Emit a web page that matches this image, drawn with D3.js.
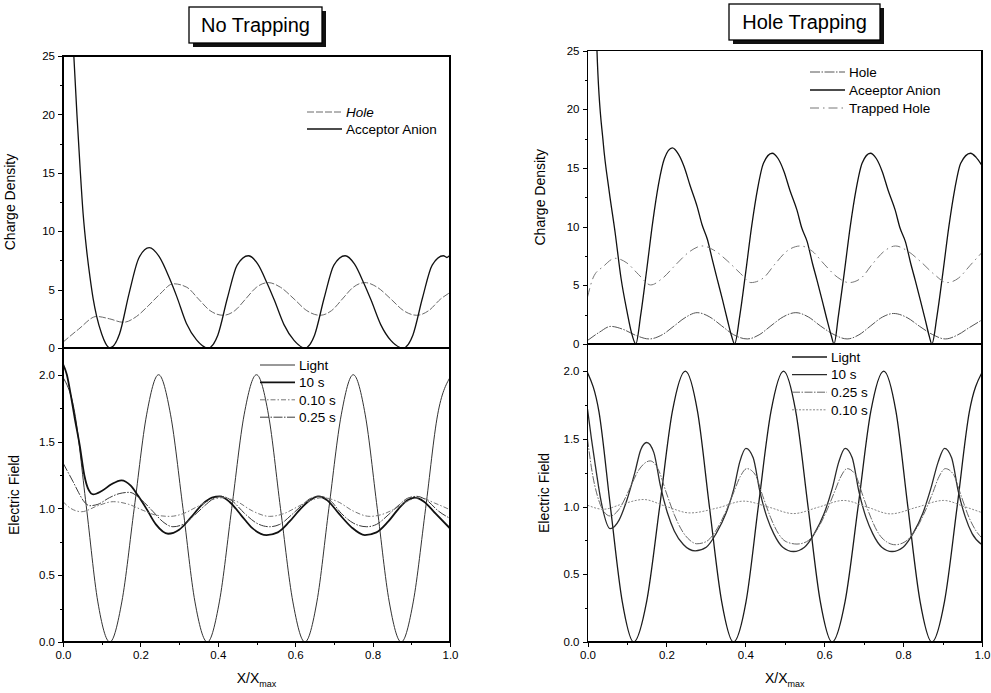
<!DOCTYPE html>
<html lang="en">
<head>
<meta charset="UTF-8">
<title>Charge Density and Electric Field</title>
<script src="https://d3js.org/d3.v7.min.js"></script>
<style>
  body { margin: 0; background: #fff; }
  svg { display: block; font-family: "Liberation Sans", Arial, sans-serif; }
  .axis path { display: none; }
  .axis line { stroke: #000; shape-rendering: crispEdges; }
  .axis text { font-size: 11.5px; fill: #000; font-family: "Liberation Sans", Arial, sans-serif; }
  .frame { fill: none; stroke: #000; stroke-width: 1.3; shape-rendering: crispEdges; }
  .legend text { font-size: 13.5px; }
</style>
</head>
<body>
<div id="chart"></div>
<script>
// ---- tick labels ----
const xTicks = [0, 0.2, 0.4, 0.6, 0.8, 1.0];
const xMinor = [0.1, 0.3, 0.5, 0.7, 0.9];
const chargeTicks = [0, 5, 10, 15, 20, 25];
const chargeMinor = [2.5, 7.5, 12.5, 17.5, 22.5];
const fieldTicks = [0, 0.5, 1.0, 1.5, 2.0];
const fieldMinor = [0.25, 0.75, 1.25, 1.75];

// ---- No Trapping: charge density ----
const ntAnionX = [0, 0.008, 0.018, 0.028, 0.036, 0.044, 0.052, 0.061, 0.07, 0.078, 0.087, 0.1, 0.11, 0.121,
  0.146, 0.171, 0.196, 0.223, 0.249, 0.276, 0.294, 0.319, 0.345, 0.375,
  0.4, 0.425, 0.45, 0.479, 0.503, 0.528, 0.546, 0.571, 0.597, 0.625,
  0.65, 0.675, 0.7, 0.729, 0.753, 0.778, 0.796, 0.821, 0.847, 0.879,
  0.904, 0.929, 0.954, 0.983, 0.992, 1.0];
const ntAnionY = [120, 50, 32, 25, 20, 15.5, 11.5, 8.4, 6.0, 4.2, 2.7, 1.2, 0.4, 0,
  1.2, 4.7, 7.7, 8.6, 7.8, 5.9, 4.4, 2.1, 0.7, 0,
  1.1, 4.3, 7.1, 7.9, 7.2, 5.5, 4.1, 2.0, 0.65, 0,
  1.1, 4.3, 7.1, 7.9, 7.2, 5.5, 4.1, 2.0, 0.65, 0,
  1.1, 4.3, 7.1, 7.9, 7.75, 7.95];
const ntHoleX = [0, 0.04, 0.087, 0.12, 0.156, 0.19, 0.22, 0.25, 0.285, 0.32,
  0.35, 0.38, 0.414, 0.444, 0.472, 0.5, 0.53, 0.562, 0.597, 0.63,
  0.664, 0.694, 0.722, 0.75, 0.78, 0.812, 0.847, 0.88, 0.914, 0.945, 0.976, 1.0];
const ntHoleY = [0.5, 1.6, 2.7, 2.5, 2.2, 2.7, 3.6, 4.6, 5.5, 5.2,
  4.2, 3.2, 2.8, 3.2, 4.2, 5.2, 5.6, 5.2, 4.2, 3.2,
  2.8, 3.2, 4.2, 5.2, 5.6, 5.2, 4.2, 3.2, 2.8, 3.2, 4.2, 4.75];

// ---- No Trapping: electric field ----
const ntLightX = [0, 0.03, 0.06, 0.09, 0.121, 0.152, 0.184, 0.216, 0.247, 0.278, 0.31, 0.341, 0.373, 0.404, 0.436, 0.468,
  0.5, 0.531, 0.562, 0.594, 0.625, 0.656, 0.687, 0.719, 0.75, 0.781, 0.812, 0.843, 0.874, 0.905, 0.937, 0.968, 1.0];
const ntLightY = [1.98, 1.72, 1.02, 0.3, 0, 0.3, 1.0, 1.7, 2.0, 1.7, 1.0, 0.3, 0, 0.3, 1.0, 1.7,
  2.0, 1.7, 1.0, 0.3, 0, 0.3, 1.0, 1.7, 2.0, 1.7, 1.0, 0.3, 0, 0.3, 1.0, 1.7, 1.98];
const nt10sX = [0, 0.01, 0.02, 0.03, 0.043, 0.055, 0.066, 0.078, 0.1, 0.125,
  0.151, 0.175, 0.195, 0.215, 0.24, 0.2715, 0.3, 0.33, 0.36, 0.385,
  0.405, 0.43, 0.46, 0.49, 0.526, 0.555, 0.585, 0.615, 0.638, 0.659,
  0.683, 0.713, 0.745, 0.78, 0.81, 0.84, 0.868, 0.89, 0.909, 0.933, 0.963, 1.0];
const nt10sY = [2.08, 2.0, 1.85, 1.68, 1.475, 1.25, 1.14, 1.105, 1.13, 1.18,
  1.21, 1.17, 1.09, 1.0, 0.88, 0.81, 0.84, 0.93, 1.03, 1.08,
  1.09, 1.05, 0.95, 0.85, 0.8, 0.82, 0.9, 1.0, 1.06, 1.09,
  1.06, 0.96, 0.86, 0.8, 0.82, 0.9, 1.0, 1.06, 1.08, 1.05, 0.96, 0.85];
const nt010X = [0, 0.02, 0.048, 0.09, 0.13, 0.17, 0.207, 0.24, 0.276, 0.31,
  0.345, 0.38, 0.414, 0.45, 0.49, 0.534, 0.57, 0.605, 0.64, 0.672,
  0.71, 0.75, 0.793, 0.83, 0.865, 0.895, 0.922, 0.96, 1.0];
const nt010Y = [1.05, 1.0, 0.975, 1.02, 1.05, 1.03, 0.985, 0.95, 0.94, 0.96,
  1.01, 1.06, 1.08, 1.05, 0.98, 0.94, 0.96, 1.01, 1.06, 1.08,
  1.05, 0.98, 0.94, 0.96, 1.01, 1.06, 1.08, 1.04, 0.99];
const nt025X = [0, 0.013, 0.026, 0.04, 0.052, 0.069, 0.09, 0.12, 0.145, 0.172,
  0.2, 0.233, 0.258, 0.284, 0.31, 0.34, 0.37, 0.39, 0.409, 0.435,
  0.47, 0.5, 0.534, 0.56, 0.59, 0.62, 0.64, 0.664, 0.69, 0.72,
  0.75, 0.785, 0.81, 0.84, 0.87, 0.89, 0.914, 0.94, 0.97, 1.0];
const nt025Y = [1.34, 1.27, 1.2, 1.12, 1.06, 1.02, 1.03, 1.08, 1.11, 1.12,
  1.07, 0.975, 0.9, 0.8625, 0.88, 0.95, 1.03, 1.075, 1.09, 1.06,
  0.96, 0.89, 0.8625, 0.88, 0.95, 1.03, 1.075, 1.09, 1.06, 0.96,
  0.89, 0.8625, 0.88, 0.95, 1.03, 1.075, 1.09, 1.06, 0.98, 0.925];

// ---- Hole Trapping: charge density ----
const htHoleX = [0, 0.03, 0.059, 0.09, 0.125, 0.156, 0.19, 0.22, 0.25, 0.278,
  0.31, 0.34, 0.37, 0.405, 0.435, 0.465, 0.497, 0.528, 0.56, 0.59,
  0.625, 0.658, 0.688, 0.718, 0.748, 0.776, 0.81, 0.842, 0.875, 0.907, 0.937, 0.968, 1.0];
const htHoleY = [0.3, 1.0, 1.5, 1.25, 0.7, 0.43, 0.8, 1.55, 2.3, 2.67,
  2.3, 1.55, 0.8, 0.43, 0.78, 1.55, 2.33, 2.67, 2.3, 1.55,
  0.8, 0.43, 0.78, 1.55, 2.3, 2.6, 2.25, 1.5, 0.8, 0.43, 0.75, 1.4, 2.05];
const htAnionX = [0, 0.01, 0.024, 0.04, 0.055, 0.07, 0.085, 0.1, 0.112, 0.1225,
  0.135, 0.15, 0.165, 0.18, 0.195, 0.215,
  0.23, 0.245, 0.26, 0.278, 0.29, 0.304, 0.317, 0.329, 0.342, 0.355, 0.365, 0.373,
  0.386, 0.401, 0.416, 0.431, 0.446, 0.468,
  0.483, 0.498, 0.513, 0.531, 0.543, 0.557, 0.57, 0.582, 0.595, 0.608, 0.618, 0.625,
  0.636, 0.651, 0.666, 0.681, 0.696, 0.717,
  0.732, 0.747, 0.762, 0.78, 0.792, 0.806, 0.819, 0.831, 0.844, 0.857, 0.866, 0.873,
  0.886, 0.901, 0.916, 0.931, 0.946, 0.971, 0.985, 1.0];
const htAnionY = [120, 45, 25, 17.1, 13, 9.5, 5.6, 2.8, 0.9, 0,
  2.5, 6.3, 10.3, 13.6, 15.8, 16.7,
  16.2, 15.1, 13.5, 11.7, 10.2, 8.9, 7.1, 5.5, 3.8, 2.0, 0.7, 0,
  2.4, 6.1, 10.0, 13.2, 15.4, 16.25,
  15.8, 14.7, 13.1, 11.4, 9.9, 8.7, 6.9, 5.4, 3.7, 1.95, 0.7, 0,
  2.4, 6.1, 10.0, 13.2, 15.4, 16.25,
  15.8, 14.7, 13.1, 11.4, 9.9, 8.7, 6.9, 5.4, 3.7, 1.95, 0.7, 0,
  2.4, 6.1, 10.0, 13.2, 15.4, 16.25, 15.9, 15.2];
const htTrapX = [0, 0.015, 0.04, 0.07, 0.1, 0.13, 0.16, 0.19, 0.225, 0.26,
  0.291, 0.32, 0.354, 0.388, 0.414, 0.445, 0.475, 0.505, 0.54, 0.57,
  0.6, 0.633, 0.663, 0.693, 0.722, 0.752, 0.781, 0.81, 0.845, 0.88,
  0.911, 0.94, 0.97, 1.0];
const htTrapY = [4.0, 5.7, 6.6, 7.3, 6.9, 5.9, 5.03, 5.6, 6.8, 7.9,
  8.35, 8.0, 7.1, 6.0, 5.23, 5.6, 6.8, 7.9, 8.35, 7.9,
  6.8, 5.7, 5.23, 5.6, 6.8, 7.9, 8.35, 7.95, 7.0, 5.9,
  5.23, 5.6, 6.7, 7.8];

// ---- Hole Trapping: electric field ----
const htLightX = [0, 0.029, 0.058, 0.088, 0.117, 0.15, 0.183, 0.215, 0.248, 0.279, 0.309, 0.34, 0.37, 0.402, 0.433, 0.465,
  0.497, 0.528, 0.559, 0.59, 0.62, 0.653, 0.686, 0.718, 0.751, 0.782, 0.812, 0.843, 0.873, 0.905, 0.937, 0.968, 1.0];
const htLightY = [1.99, 1.7, 1.0, 0.3, 0, 0.3, 1.0, 1.7, 2.0, 1.7, 1.0, 0.3, 0, 0.3, 1.0, 1.7,
  2.0, 1.7, 1.0, 0.3, 0, 0.3, 1.0, 1.7, 2.0, 1.7, 1.0, 0.3, 0, 0.3, 1.0, 1.7, 1.99];
const ht10sX = [0, 0.01, 0.02, 0.035, 0.0575, 0.08, 0.1, 0.12, 0.135, 0.15,
  0.168, 0.185, 0.203, 0.22, 0.243, 0.273, 0.301, 0.326, 0.351, 0.371,
  0.386, 0.4015, 0.42, 0.437, 0.455, 0.472, 0.495, 0.522, 0.55, 0.575,
  0.6, 0.62, 0.637, 0.653, 0.671, 0.688, 0.706, 0.723, 0.746, 0.772,
  0.8, 0.825, 0.85, 0.87, 0.889, 0.905, 0.923, 0.94, 0.958, 0.975, 1.0];
const ht10sY = [1.72, 1.5, 1.3, 1.03, 0.837, 0.9, 1.05, 1.25, 1.42, 1.473,
  1.4, 1.15, 0.95, 0.82, 0.72, 0.673, 0.7, 0.8, 0.95, 1.13,
  1.33, 1.43, 1.36, 1.11, 0.92, 0.8, 0.7, 0.668, 0.7, 0.8,
  0.95, 1.13, 1.33, 1.43, 1.36, 1.11, 0.92, 0.8, 0.7, 0.668,
  0.7, 0.8, 0.95, 1.13, 1.33, 1.43, 1.36, 1.11, 0.92, 0.8, 0.718];
const ht025X = [0, 0.012, 0.025, 0.04, 0.0575, 0.08, 0.105, 0.13, 0.159, 0.18,
  0.2, 0.22, 0.24, 0.26, 0.277, 0.3, 0.325, 0.35, 0.37, 0.387,
  0.404, 0.424, 0.444, 0.464, 0.484, 0.504, 0.531, 0.555, 0.58, 0.605,
  0.625, 0.642, 0.658, 0.678, 0.698, 0.718, 0.738, 0.758, 0.78, 0.805,
  0.83, 0.855, 0.875, 0.891, 0.907, 0.927, 0.947, 0.967, 0.985, 1.0];
const ht025Y = [1.5, 1.25, 1.08, 0.97, 0.93, 0.98, 1.12, 1.27, 1.337, 1.27,
  1.1, 0.94, 0.82, 0.75, 0.725, 0.74, 0.82, 0.96, 1.1, 1.22,
  1.28, 1.24, 1.08, 0.92, 0.8, 0.74, 0.723, 0.74, 0.82, 0.96,
  1.1, 1.22, 1.28, 1.24, 1.08, 0.92, 0.8, 0.74, 0.718, 0.74,
  0.82, 0.96, 1.1, 1.22, 1.28, 1.24, 1.08, 0.92, 0.82, 0.767];
const ht010X = [0, 0.04, 0.09, 0.142, 0.2, 0.26, 0.33, 0.396, 0.46, 0.522,
  0.585, 0.649, 0.71, 0.768, 0.835, 0.903, 0.955, 1.0];
const ht010Y = [1.01, 0.98, 1.02, 1.052, 1.0, 0.953, 0.99, 1.04, 0.995, 0.948,
  0.995, 1.045, 0.995, 0.946, 0.995, 1.045, 1.0, 0.955];

const zip = (xs, ys) => xs.map((x, i) => ({ x: x, y: ys[i] }));

// Panel layout and series styling
const sides = [
  {
    id: 'nt', left: 63, right: 450, top: 56, mid: 348, bottom: 642,
    title: 'No Trapping', box: [189, 7, 133, 36],
    chargeLegend: { x: 307, y: 112, dy: 17 },
    fieldLegend: { x: 260, y: 365, dy: 17.4 },
    charge: [
      { name: 'Hole', italic: true, xs: ntHoleX, ys: ntHoleY, color: '#6a6a6a', width: 1, dash: '7,2' },
      { name: 'Acceptor Anion', xs: ntAnionX, ys: ntAnionY, color: '#111', width: 1.3, dash: null }
    ],
    field: [
      { name: 'Light', xs: ntLightX, ys: ntLightY, color: '#333', width: 1, dash: null },
      { name: '10 s', xs: nt10sX, ys: nt10sY, color: '#111', width: 1.8, dash: null },
      { name: '0.10 s', xs: nt010X, ys: nt010Y, color: '#777', width: 1, dash: '5,2,1.5,2' },
      { name: '0.25 s', xs: nt025X, ys: nt025Y, color: '#3a3a3a', width: 1, dash: '9,1.5,1.5,1.5' }
    ]
  },
  {
    id: 'ht', left: 587.5, right: 982, top: 50.5, mid: 344, bottom: 642,
    title: 'Hole Trapping', box: [729, 4, 151, 36],
    chargeLegend: { x: 810, y: 72, dy: 18 },
    fieldLegend: { x: 792, y: 357, dy: 17.6 },
    charge: [
      { name: 'Hole', xs: htHoleX, ys: htHoleY, color: '#555', width: 1, dash: '10,1.5,1.5,1.5' },
      { name: 'Aceeptor Anion', xs: htAnionX, ys: htAnionY, color: '#111', width: 1.3, dash: null },
      { name: 'Trapped Hole', xs: htTrapX, ys: htTrapY, color: '#777', width: 1, dash: '9,4,1.5,4' }
    ],
    field: [
      { name: 'Light', xs: htLightX, ys: htLightY, color: '#1a1a1a', width: 1.3, dash: null },
      { name: '10 s', xs: ht10sX, ys: ht10sY, color: '#2a2a2a', width: 1.3, dash: null },
      { name: '0.25 s', xs: ht025X, ys: ht025Y, color: '#666', width: 1, dash: '8,1.5,1.5,1.5' },
      { name: '0.10 s', xs: ht010X, ys: ht010Y, color: '#888', width: 1, dash: '2,1.5' }
    ]
  }
];

const svg = d3.select('#chart').append('svg')
  .attr('width', 991)
  .attr('height', 693);

const defs = svg.append('defs');

function drawPanel(s, key, x, y, top, bottom, legend, ticks, minor, fmt, label, labelX) {
  const clipId = 'clip-' + s.id + '-' + key;
  defs.append('clipPath').attr('id', clipId)
    .append('rect')
    .attr('x', s.left).attr('y', top)
    .attr('width', s.right - s.left).attr('height', bottom - top);

  const line = d3.line()
    .x(d => x(d.x))
    .y(d => y(d.y))
    .curve(d3.curveMonotoneX);

  const g = svg.append('g').attr('clip-path', `url(#${clipId})`);
  s[key].forEach(ser => {
    g.append('path')
      .datum(zip(ser.xs, ser.ys))
      .attr('fill', 'none')
      .attr('stroke', ser.color)
      .attr('stroke-width', ser.width)
      .attr('stroke-dasharray', ser.dash)
      .attr('stroke-linejoin', 'round')
      .attr('d', line);
  });

  // y axis, major and minor ticks
  svg.append('g')
    .attr('class', 'axis')
    .attr('transform', `translate(${s.left},0)`)
    .call(d3.axisLeft(y).tickValues(ticks).tickSize(5).tickPadding(3).tickFormat(fmt));
  svg.append('g')
    .attr('class', 'axis')
    .attr('transform', `translate(${s.left},0)`)
    .call(d3.axisLeft(y).tickValues(minor).tickSize(3).tickFormat(''));

  // frame
  svg.append('rect')
    .attr('class', 'frame')
    .attr('x', s.left).attr('y', top)
    .attr('width', s.right - s.left).attr('height', bottom - top);

  // y label
  svg.append('text')
    .attr('transform', `translate(${labelX},${(top + bottom) / 2}) rotate(-90)`)
    .attr('text-anchor', 'middle')
    .attr('font-size', 14)
    .text(label);

  // legend
  const lg = svg.append('g').attr('class', 'legend');
  s[key].forEach((ser, i) => {
    const ly = legend.y + i * legend.dy;
    lg.append('line')
      .attr('x1', legend.x).attr('x2', legend.x + 35)
      .attr('y1', ly).attr('y2', ly)
      .attr('stroke', ser.color)
      .attr('stroke-width', ser.width)
      .attr('stroke-dasharray', ser.dash);
    lg.append('text')
      .attr('x', legend.x + 39)
      .attr('y', ly)
      .attr('dy', '0.36em')
      .attr('font-style', ser.italic ? 'italic' : null)
      .text(ser.name);
  });
}

sides.forEach((s, si) => {
  const x = d3.scaleLinear().domain([0, 1]).range([s.left, s.right]);
  const yC = d3.scaleLinear().domain([0, 25]).range([s.mid, s.top]);
  const yE = d3.scaleLinear().domain([0, 2.2]).range([s.bottom, s.mid]);
  const labelX = si === 0 ? 19 : 549;

  drawPanel(s, 'charge', x, yC, s.top, s.mid, s.chargeLegend,
    chargeTicks, chargeMinor, d3.format('d'), 'Charge Density', labelX - 4);
  drawPanel(s, 'field', x, yE, s.mid, s.bottom, s.fieldLegend,
    fieldTicks, fieldMinor, d3.format('.1f'), 'Electric Field', labelX);

  // x axis
  svg.append('g')
    .attr('class', 'axis')
    .attr('transform', `translate(0,${s.bottom})`)
    .call(d3.axisBottom(x).tickValues(xTicks).tickSize(5).tickPadding(4).tickFormat(d3.format('.1f')));
  svg.append('g')
    .attr('class', 'axis')
    .attr('transform', `translate(0,${s.bottom})`)
    .call(d3.axisBottom(x).tickValues(xMinor).tickSize(3).tickFormat(''));

  // x label X/X_max
  const xl = svg.append('text')
    .attr('x', (s.left + s.right) / 2)
    .attr('y', 683)
    .attr('text-anchor', 'middle')
    .attr('font-size', 14);
  xl.append('tspan').text('X/X');
  xl.append('tspan').attr('font-size', 9).attr('dy', 4).text('max');

  // title box with drop shadow
  const [bx, by, bw, bh] = s.box;
  svg.append('rect')
    .attr('x', bx + 4).attr('y', by + 4)
    .attr('width', bw).attr('height', bh)
    .attr('fill', '#111');
  svg.append('rect')
    .attr('x', bx).attr('y', by)
    .attr('width', bw).attr('height', bh)
    .attr('fill', '#fff')
    .attr('stroke', '#000')
    .attr('stroke-width', 1.3);
  svg.append('text')
    .attr('x', bx + bw / 2)
    .attr('y', by + bh / 2)
    .attr('dy', '0.36em')
    .attr('text-anchor', 'middle')
    .attr('font-size', 20)
    .text(s.title);
});
</script>
</body>
</html>
